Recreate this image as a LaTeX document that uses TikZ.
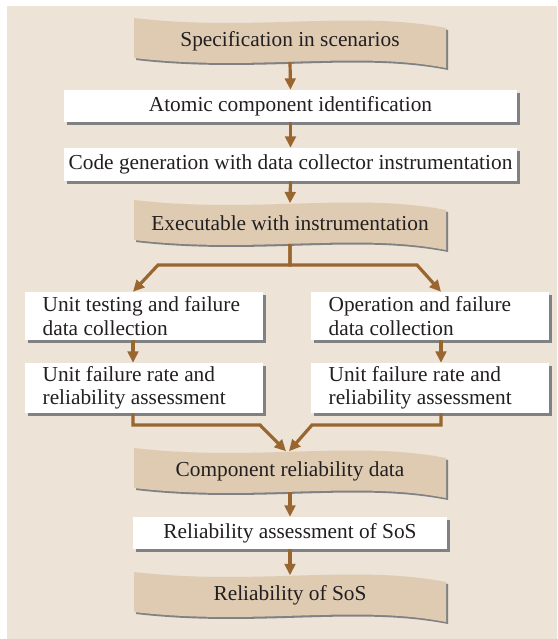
\documentclass[tikz,border=0pt]{standalone}
\usepackage{fontspec}
\setmainfont{Liberation Serif}
\usetikzlibrary{arrows.meta,calc,shadows}
\definecolor{panelbg}{RGB}{237,227,214}
\definecolor{ribbonfill}{RGB}{222,203,178}
\definecolor{arrowbrown}{RGB}{153,102,48}
\definecolor{shadowgray}{RGB}{128,129,133}
\definecolor{darktext}{RGB}{35,31,32}
\tikzset{
  every node/.style={font=\fontsize{16}{17.5}\selectfont,text=darktext},
  stagebox/.style={fill=white,inner sep=0pt,
    drop shadow={shadow xshift=2.25pt,shadow yshift=-2.25pt,
      fill=shadowgray,opacity=1}},
  twoline/.style={stagebox,align=flush left,inner xsep=13.25pt,text width=152pt,
    minimum height=#1},
  ribbontext/.style={minimum width=234pt,minimum height=30pt,inner sep=0pt},
  flow/.style={draw=arrowbrown,line width=2.4pt,
    -{Triangle[width=8pt,length=8.5pt]}},
}
% wavy data ribbon: name, x, y of the label, label
\newcommand{\ribbon}[4]{%
  \begin{scope}[shift={(#2,#3)}]
    \fill[shadowgray,shift={(2,2)}] (-156,-23.5)
      .. controls (-36,-9.5) and (64,-31.5) .. (156,-13.5) -- (156,26.5)
      .. controls (64,8.5) and (-36,30.5) .. (-156,16.5) -- cycle;
    \fill[ribbonfill] (-156,-23.5)
      .. controls (-36,-9.5) and (64,-31.5) .. (156,-13.5) -- (156,26.5)
      .. controls (64,8.5) and (-36,30.5) .. (-156,16.5) -- cycle;
  \end{scope}
  \node[ribbontext] (#1) at (#2,#3) {#4};}

\begin{document}
\begin{tikzpicture}[x=0.75pt,y=-0.75pt]
\useasboundingbox (0,0) rectangle (557,639);
\fill[panelbg] (7,6) rectangle (557,639);

% ribbons
\ribbon{spec}{290}{41.5}{Specification in scenarios}
\ribbon{exec}{290}{223.5}{Executable with instrumentation}
\ribbon{comp}{290}{471.5}{Component reliability data}
\ribbon{sos}{290}{595.5}{Reliability of SoS}

% white steps
\node[stagebox,minimum width=339.75pt,minimum height=24pt] (atomic) at (290.5,106)
  {Atomic component identification};
\node[stagebox,minimum width=339.75pt,minimum height=24.75pt] (codegen) at (290.5,164.5)
  {Code generation with data collector instrumentation};
\node[twoline=36pt] (unittest) at (144,316)
  {Unit testing and failure\\data collection};
\node[twoline=36pt] (operation) at (430,316)
  {Operation and failure\\data collection};
\node[twoline=37.5pt] (rateL) at (144,388)
  {Unit failure rate and\\reliability assessment};
\node[twoline=37.5pt] (rateR) at (430,388)
  {Unit failure rate and\\reliability assessment};
\node[stagebox,minimum width=235.5pt,minimum height=24pt] (relass) at (290,533)
  {Reliability assessment of SoS};

% columns and bends
\coordinate (colL) at (133,0);
\coordinate (colR) at (441,0);
\coordinate (splitL) at (158,265);
\coordinate (splitR) at (417,265);
\coordinate (mergeL) at (260,425);
\coordinate (mergeR) at (312,425);

% flow
\draw[flow] (spec.south) -- (atomic.north);
\draw[flow] (atomic.south) -- (codegen.north);
\draw[flow] (codegen.south) -- (exec.north);
\draw[flow] (exec.south) |- (splitL) -- (unittest.north -| colL);
\draw[flow] (exec.south) |- (splitR) -- (operation.north -| colR);
\draw[flow] (unittest.south -| colL) -- (rateL.north -| colL);
\draw[flow] (operation.south -| colR) -- (rateR.north -| colR);
\draw[flow] (rateL.south -| colL) |- (mergeL) -- ($(comp.north)+(-4,0)$);
\draw[flow] (rateR.south -| colR) |- (mergeR) -- ($(comp.north)+(-1,0)$);
\draw[flow] (comp.south) -- (relass.north);
\draw[flow] (relass.south) -- (sos.north);
\end{tikzpicture}
\end{document}
